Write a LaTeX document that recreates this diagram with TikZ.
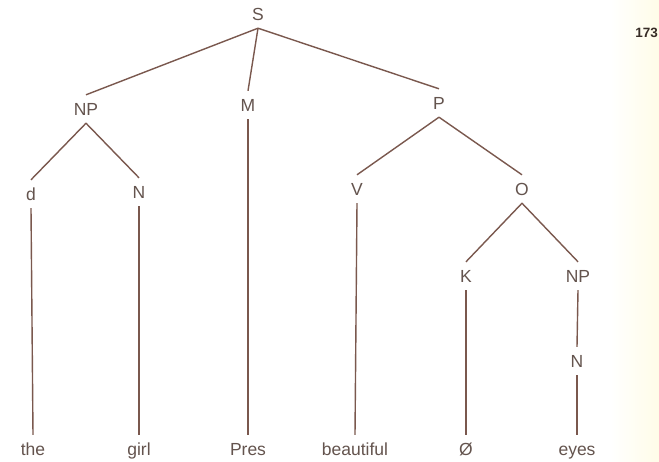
\documentclass[tikz,border=0pt]{standalone}
\usepackage{fontspec}
\setmainfont{Liberation Sans}
\definecolor{linec}{RGB}{122,88,78}
\definecolor{textc}{RGB}{100,84,78}
\definecolor{pagenum}{RGB}{55,44,38}
\definecolor{paperedge}{RGB}{255,252,232}
\begin{document}
\begin{tikzpicture}[x=1pt,y=-1pt,
  lab/.style={inner xsep=0pt, inner ysep=8pt, text height=12pt, text depth=0pt,
              anchor=base, text=textc, font=\fontsize{17.5}{20}\selectfont},
  branch/.style={draw=linec, line width=1.4pt}]
  \fill[white] (0,0) rectangle (659,461);
  \shade[left color=white, right color=paperedge] (610,0) rectangle (659,461);
  \useasboundingbox (0,0) rectangle (659,461);

  % node labels
  \node[lab] (S)   at (258,20)  {S};
  \node[lab] (NPa) at (86,115)  {NP};
  \node[lab] (M)   at (248,111) {M};
  \node[lab] (P)   at (439,109) {P};
  \node[lab] (d)   at (31,200)  {d};
  \node[lab] (Na)  at (139,198) {N};
  \node[lab] (V)   at (357,195) {V};
  \node[lab] (O)   at (522,195) {O};
  \node[lab] (K)   at (466,282) {K};
  \node[lab] (NPb) at (578,282) {NP};
  \node[lab] (Nb)  at (577,367) {N};

  % leaves
  \node[lab] (the)  at (33,455)  {the};
  \node[lab] (girl) at (139,455) {girl};
  \node[lab] (pres) at (248,455) {Pres};
  \node[lab] (beau) at (355,455) {beautiful};
  \node[lab] (null) at (466,455) {Ø};
  \node[lab] (eyes) at (577,455) {eyes};

  % page number
  \node[anchor=base east, inner sep=0pt, text=pagenum,
        font=\fontsize{13.5}{16}\selectfont\bfseries] (pg) at (658,37) {173};

  % branches
  \draw[branch] (S.south) -- (NPa.north);
  \draw[branch] (S.south) -- (M.north);
  \draw[branch] (S.south) -- (P.north);
  \draw[branch] (NPa.south) -- (d.north);
  \draw[branch] (NPa.south) -- (Na.north);
  \draw[branch] (P.south) -- (V.north);
  \draw[branch] (P.south) -- (O.north);
  \draw[branch] (O.south) -- (K.north);
  \draw[branch] (O.south) -- (NPb.north);
  \draw[branch] (NPb.south) -- (Nb.north);

  \draw[branch] (d.south) -- (the.north);
  \draw[branch] (Na.south) -- (girl.north);
  \draw[branch] (M.south) -- (pres.north);
  \draw[branch] (V.south) -- (beau.north);
  \draw[branch] (K.south) -- (null.north);
  \draw[branch] (Nb.south) -- (eyes.north);
\end{tikzpicture}
\end{document}
